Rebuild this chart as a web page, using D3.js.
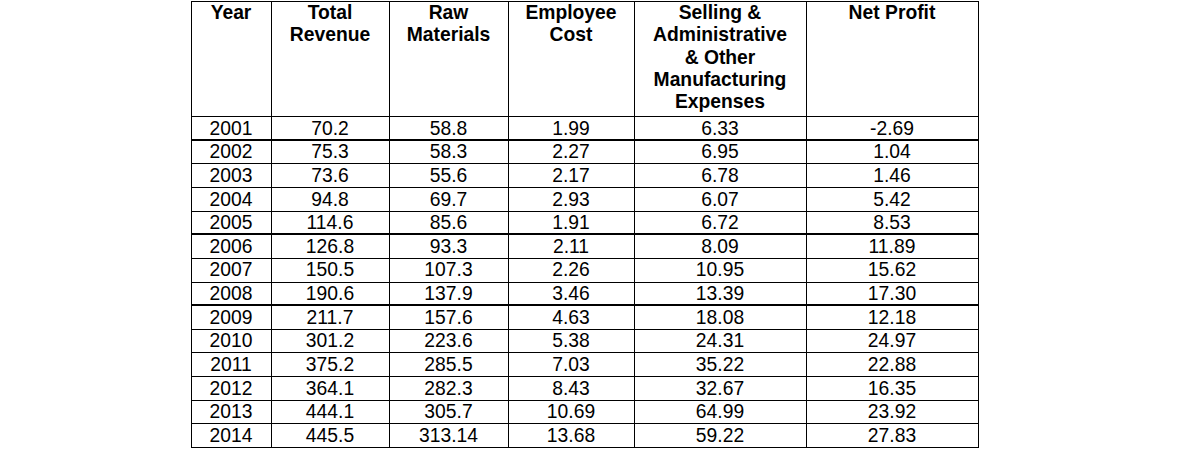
<!DOCTYPE html>
<html>
<head>
<meta charset="utf-8">
<script src="https://cdn.jsdelivr.net/npm/d3@7"></script>
<style>
  html, body { margin: 0; padding: 0; background: #fff; }
  svg { display: block; }
</style>
</head>
<body>
<svg id="chart" width="1185" height="474"></svg>
<script>
// ---- data ----
const headers = [
  ["Year"],
  ["Total", "Revenue"],
  ["Raw", "Materials"],
  ["Employee", "Cost"],
  ["Selling &", "Administrative", "& Other", "Manufacturing", "Expenses"],
  ["Net Profit"]
];
const years = ["2001","2002","2003","2004","2005","2006","2007","2008","2009","2010","2011","2012","2013","2014"];
const totalRevenue = ["70.2","75.3","73.6","94.8","114.6","126.8","150.5","190.6","211.7","301.2","375.2","364.1","444.1","445.5"];
const rawMaterials = ["58.8","58.3","55.6","69.7","85.6","93.3","107.3","137.9","157.6","223.6","285.5","282.3","305.7","313.14"];
const employeeCost = ["1.99","2.27","2.17","2.93","1.91","2.11","2.26","3.46","4.63","5.38","7.03","8.43","10.69","13.68"];
const sellingAdmin = ["6.33","6.95","6.78","6.07","6.72","8.09","10.95","13.39","18.08","24.31","35.22","32.67","64.99","59.22"];
const netProfit = ["-2.69","1.04","1.46","5.42","8.53","11.89","15.62","17.30","12.18","24.97","22.88","16.35","23.92","27.83"];
const thickAfter = ["2001","2005","2008"];

// ---- layout ----
const columns = [years, totalRevenue, rawMaterials, employeeCost, sellingAdmin, netProfit];
const colEdges = [191, 271, 389, 508, 634, 806, 978];
const tableTop = 1, headerBottom = 116, tableBottom = 447;
const fontFamily = "'Liberation Sans', Arial, Helvetica, sans-serif";
const fontSize = 19.3;

const svg = d3.select("#chart");

const y = d3.scaleLinear().domain([0, years.length]).range([headerBottom, tableBottom]);
const colIdx = d3.range(columns.length);
const xLeft = d3.scaleOrdinal().domain(colIdx).range(colEdges.slice(0, -1));
const xRight = d3.scaleOrdinal().domain(colIdx).range(colEdges.slice(1));
const xMid = i => (xLeft(i) + xRight(i)) / 2;

// header text
const hg = svg.append("g")
  .attr("font-family", fontFamily)
  .attr("font-size", fontSize)
  .attr("font-weight", "bold")
  .attr("fill", "#000")
  .attr("text-anchor", "middle");
headers.forEach((lines, i) => {
  hg.append("g").selectAll("text").data(lines).join("text")
    .attr("x", xMid(i))
    .attr("y", (d, j) => 19 + j * 22.3)
    .text(d => d);
});

// body text
const bg = svg.append("g")
  .attr("font-family", fontFamily)
  .attr("font-size", fontSize)
  .attr("fill", "#000")
  .attr("text-anchor", "middle");
columns.forEach((col, i) => {
  bg.append("g").selectAll("text").data(col).join("text")
    .attr("x", xMid(i))
    .attr("y", (d, r) => (y(r) + y(r + 1)) / 2 + 6.8)
    .text(d => d);
});

// grid lines
const lg = svg.append("g").attr("stroke", "#000").attr("shape-rendering", "crispEdges");
// vertical
lg.selectAll("line.v").data(colEdges).join("line")
  .attr("class", "v")
  .attr("x1", d => d + 0.5).attr("x2", d => d + 0.5)
  .attr("y1", tableTop).attr("y2", tableBottom + 1)
  .attr("stroke-width", 1);
// top
lg.append("line")
  .attr("x1", colEdges[0]).attr("x2", colEdges[colEdges.length - 1] + 1)
  .attr("y1", tableTop + 0.5).attr("y2", tableTop + 0.5)
  .attr("stroke-width", 1);
// horizontal row lines
const rowLines = d3.range(years.length + 1);
const isThick = r => r > 0 && thickAfter.includes(years[r - 1]);
lg.selectAll("line.h").data(rowLines).join("line")
  .attr("class", "h")
  .attr("x1", colEdges[0]).attr("x2", colEdges[colEdges.length - 1] + 1)
  .attr("y1", r => Math.round(y(r)) + (isThick(r) ? 0 : 0.5))
  .attr("y2", r => Math.round(y(r)) + (isThick(r) ? 0 : 0.5))
  .attr("stroke-width", r => isThick(r) ? 2 : 1);
</script>
</body>
</html>
